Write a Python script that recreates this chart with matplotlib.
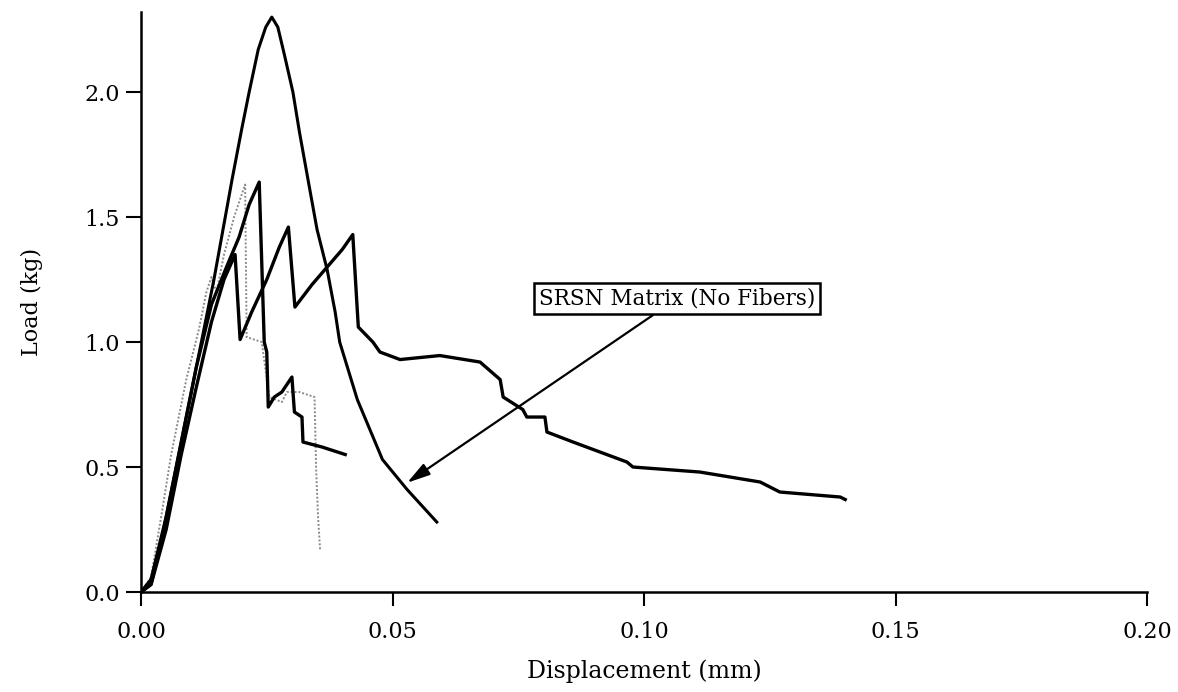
import matplotlib
matplotlib.use("Agg")
import matplotlib.pyplot as plt

# displacement (mm) / load (kg)
matrix_x = [0.0, 0.002, 0.004, 0.007, 0.010, 0.0125, 0.0145, 0.0163, 0.0181, 0.020, 0.0215,
            0.0233, 0.0248, 0.026, 0.0272, 0.0285, 0.0302, 0.0315, 0.0332, 0.035, 0.037,
            0.0386, 0.0395, 0.043, 0.048, 0.0529, 0.0588]
matrix_y = [0.0, 0.03, 0.2, 0.5, 0.8, 1.05, 1.25, 1.45, 1.65, 1.85, 2.0,
            2.17, 2.26, 2.30, 2.26, 2.15, 2.0, 1.84, 1.65, 1.45, 1.29,
            1.12, 1.0, 0.77, 0.53, 0.41, 0.28]

spec_b_x = [0.0, 0.002, 0.005, 0.008, 0.011, 0.014, 0.017, 0.0195, 0.0215, 0.0235, 0.0245,
            0.025, 0.0253, 0.0265, 0.028, 0.030, 0.0305, 0.032, 0.0322, 0.036, 0.0406]
spec_b_y = [0.0, 0.05, 0.3, 0.6, 0.9, 1.15, 1.3, 1.42, 1.55, 1.64, 1.0,
            0.96, 0.74, 0.78, 0.80, 0.86, 0.72, 0.70, 0.60, 0.58, 0.55]

spec_c_x = [0.0, 0.002, 0.004, 0.006, 0.009, 0.0115, 0.013, 0.014, 0.015, 0.0165, 0.0185,
            0.0207, 0.021, 0.024, 0.0255, 0.028, 0.029, 0.0315, 0.033, 0.0345, 0.0348,
            0.0352, 0.0356]
spec_c_y = [0.0, 0.06, 0.3, 0.55, 0.85, 1.05, 1.2, 1.26, 1.2, 1.35, 1.5,
            1.63, 1.02, 1.0, 0.78, 0.76, 0.80, 0.80, 0.79, 0.78, 0.5,
            0.3, 0.17]

spec_d_x = [0.0, 0.002, 0.005, 0.008, 0.011, 0.014, 0.0165, 0.0187, 0.0197, 0.022, 0.025,
            0.0275, 0.0293, 0.0306, 0.034, 0.037, 0.040, 0.0421, 0.0432, 0.0461, 0.0475,
            0.0515, 0.0594, 0.0674, 0.0714, 0.072, 0.0759, 0.0767, 0.0803, 0.0807, 0.0859,
            0.0966, 0.0978, 0.1111, 0.1231, 0.127, 0.139, 0.140]
spec_d_y = [0.0, 0.03, 0.25, 0.55, 0.82, 1.08, 1.25, 1.35, 1.01, 1.12, 1.25,
            1.38, 1.46, 1.14, 1.23, 1.30, 1.37, 1.43, 1.06, 1.0, 0.96,
            0.93, 0.946, 0.92, 0.85, 0.78, 0.73, 0.70, 0.70, 0.64, 0.60,
            0.52, 0.50, 0.48, 0.44, 0.40, 0.38, 0.37]

x_ticks = [0.0, 0.05, 0.10, 0.15, 0.20]
y_ticks = [0.0, 0.5, 1.0, 1.5, 2.0]

plt.rcParams["font.family"] = "DejaVu Serif"

fig = plt.figure(figsize=(11.78, 6.92), dpi=100)
ax = fig.add_axes([0.1197, 0.1445, 0.854, 0.838])

ax.plot(spec_c_x, spec_c_y, color="#8a8a8a", lw=1.4, ls=(0, (1, 1)))
ax.plot(spec_b_x, spec_b_y, color="black", lw=2.4)
ax.plot(spec_d_x, spec_d_y, color="black", lw=2.4)
ax.plot(matrix_x, matrix_y, color="black", lw=2.2)

ax.annotate("SRSN Matrix (No Fibers)", xy=(0.0529, 0.437), xytext=(0.1066, 1.174),
            ha="center", va="center", fontsize=15.5,
            bbox=dict(boxstyle="square,pad=0.22", fc="white", ec="black", lw=1.8),
            arrowprops=dict(arrowstyle="-|>,head_length=0.9,head_width=0.25",
                            color="black", lw=1.6, shrinkA=0, shrinkB=0))

ax.set_xlim(0, 0.20)
ax.set_ylim(0, 2.32)
ax.set_xticks(x_ticks)
ax.set_xticklabels(["%.2f" % v for v in x_ticks])
ax.set_yticks(y_ticks)
ax.set_yticklabels(["%.1f" % v for v in y_ticks])
ax.tick_params(axis="x", length=10, width=1.5, labelsize=16, pad=11)
ax.tick_params(axis="y", length=11, width=1.5, labelsize=16, pad=4)
ax.spines["top"].set_visible(False)
ax.spines["right"].set_visible(False)
ax.spines["left"].set_linewidth(1.8)
ax.spines["bottom"].set_linewidth(1.8)

ax.set_xlabel("Displacement (mm)", fontsize=17, labelpad=12)
ax.set_ylabel("Load (kg)", fontsize=16, labelpad=30)

fig.savefig("out.png", dpi=100)
